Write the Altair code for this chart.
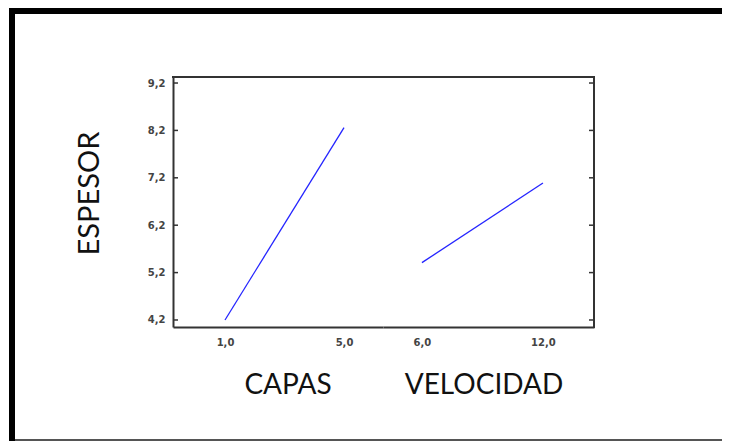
import altair as alt
import pandas as pd

# ---- data ----
capas_x = [1.0, 5.0]
capas_y = [4.2, 8.26]
vel_x = [6.0, 12.0]
vel_y = [5.41, 7.09]
y_ticks = [4.2, 5.2, 6.2, 7.2, 8.2, 9.2]
capas_ticks = [1.0, 5.0]
vel_ticks = [6.0, 12.0]

W1, W2, H = 210, 211, 250
ydom = [4.052, 9.327]
xdom_capas = [-0.748, 6.31]
xdom_vel = [4.07, 14.53]

BOX = "#333333"
LINE = "#2424ff"
LBL_FONT = "DejaVu Sans"
LBL_COLOR = "#444444"
TITLE_FONT = "Lato"
label_expr = "replace(format(datum.value, '.1f'), '.', ',')"

df_capas = pd.DataFrame({"x": capas_x, "y": capas_y})
df_vel = pd.DataFrame({"x": vel_x, "y": vel_y})
df_ticks = pd.DataFrame({"y": y_ticks})
dummy = pd.DataFrame({"a": [0]})

yscale = alt.Scale(domain=ydom, nice=False, zero=False)


def xaxis(vals, title, tx):
    return alt.Axis(
        values=vals, labelExpr=label_expr, ticks=False, tickSize=0,
        labelPadding=10, labelFont=LBL_FONT, labelFontSize=10, labelFontWeight="bold",
        labelColor=LBL_COLOR, domainColor=BOX, domainWidth=2, grid=False,
        title=title, titleFont=TITLE_FONT, titleFontSize=28, titleFontWeight="normal",
        titleColor="#111", titleX=tx, titleY=66, titleBaseline="alphabetic",
        titleAlign="center",
    )


def block(x1, x2, y1, y2, color):
    return alt.Chart(dummy).mark_rect(color=color).encode(
        x=alt.value(x1), x2=alt.value(x2), y=alt.value(y1), y2=alt.value(y2)
    )


# ---- left panel (CAPAS) ----
line1 = alt.Chart(df_capas).mark_line(color=LINE, strokeWidth=1.3).encode(
    x=alt.X("x:Q", scale=alt.Scale(domain=xdom_capas, nice=False, zero=False),
            axis=xaxis(capas_ticks, "CAPAS", 114.5)),
    y=alt.Y("y:Q", scale=yscale,
            axis=alt.Axis(values=y_ticks, labelExpr=label_expr, ticks=False, tickSize=0,
                          labelPadding=8, labelFont=LBL_FONT, labelFontSize=10,
                          labelFontWeight="bold", labelColor=LBL_COLOR,
                          domainColor=BOX, domainWidth=2, grid=False,
                          title="ESPESOR", titleFont=TITLE_FONT, titleFontSize=29,
                          titleFontWeight="normal", titleColor="#111", titleAngle=270,
                          titleX=-84, titleY=116, titleBaseline="middle",
                          titleAlign="center")),
)
ticks1 = alt.Chart(df_ticks).mark_rule(color=BOX, strokeWidth=1.5).encode(
    y=alt.Y("y:Q", scale=yscale), x=alt.value(0), x2=alt.value(5)
)
top1 = block(-1, W1, -1, 1, BOX)
frame_left = block(-164, -158, -69, 364, "black")
frame_top = block(-164, 549, -69, -63, "black")
frame_bottom = block(-158, 549, 362, 364, "#555555")
left = alt.layer(line1, ticks1, top1, frame_left, frame_top, frame_bottom).properties(
    width=W1, height=H
)

# ---- right panel (VELOCIDAD) ----
line2 = alt.Chart(df_vel).mark_line(color=LINE, strokeWidth=1.3).encode(
    x=alt.X("x:Q", scale=alt.Scale(domain=xdom_vel, nice=False, zero=False),
            axis=xaxis(vel_ticks, "VELOCIDAD", 100.5)),
    y=alt.Y("y:Q", scale=yscale, axis=None),
)
ticks2 = alt.Chart(df_ticks).mark_rule(color=BOX, strokeWidth=1.5).encode(
    y=alt.Y("y:Q", scale=yscale, axis=None), x=alt.value(W2 - 5), x2=alt.value(W2)
)
top2 = block(0, W2 + 1, -1, 1, BOX)
right2 = block(W2 - 1, W2 + 1, -1, H + 1, BOX)
right = alt.layer(line2, ticks2, top2, right2).properties(width=W2, height=H)

chart = (
    alt.hconcat(left, right, spacing=0, bounds="flush")
    .properties(padding={"left": 1, "top": 0, "right": 0, "bottom": 0},
                background="white")
    .configure_view(stroke=None)
)

chart.save("out.html", embed_options={"renderer": "svg", "actions": False})
